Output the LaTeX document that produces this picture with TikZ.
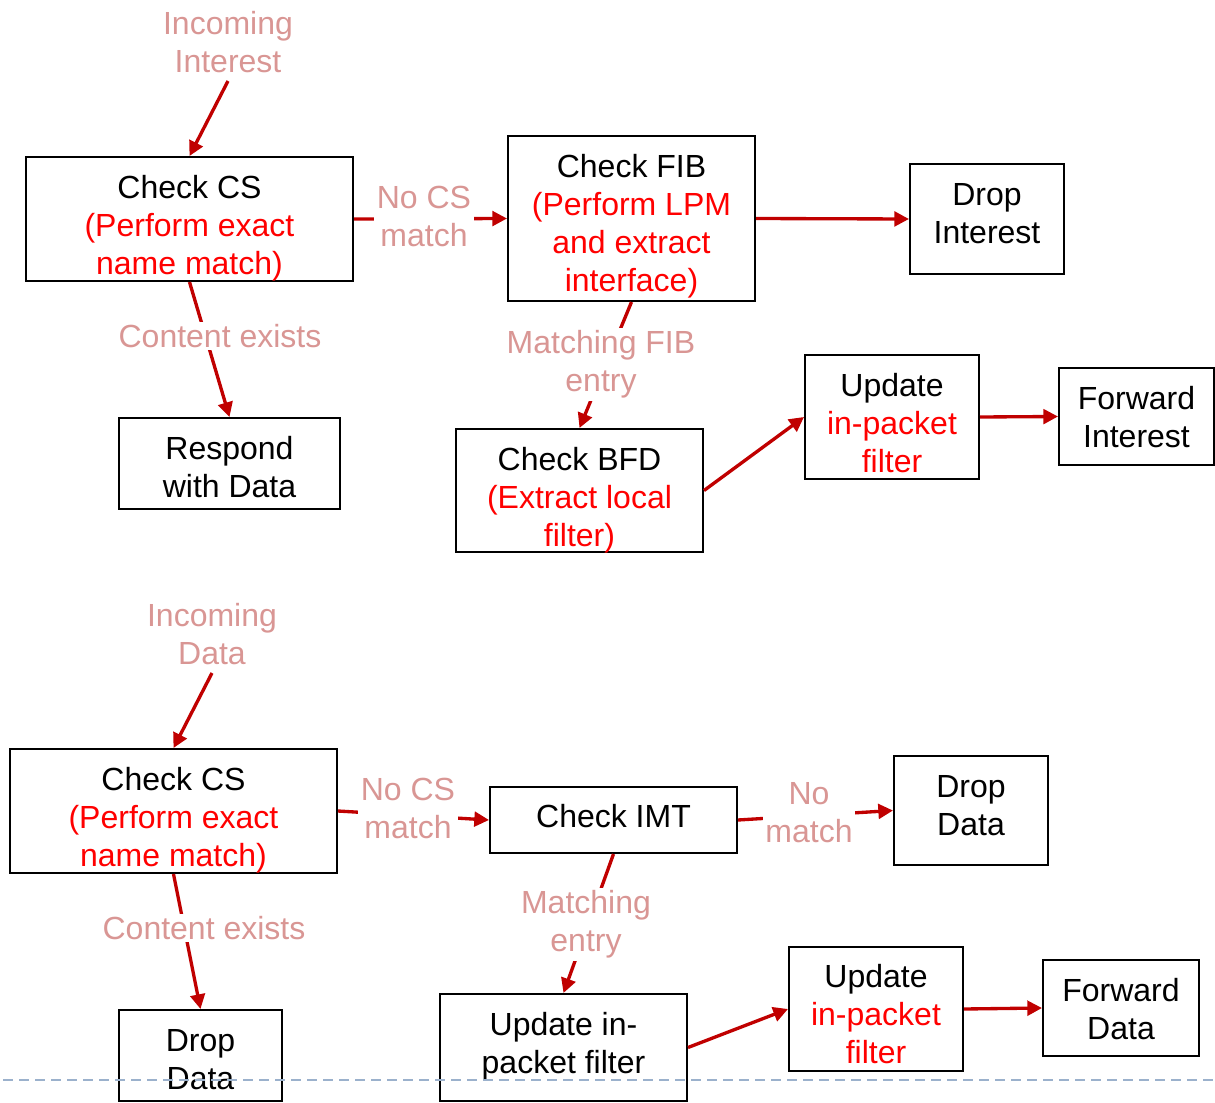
\documentclass[tikz,border=0pt]{standalone}
\usepackage{fontspec}
\setmainfont{Liberation Sans}
\usetikzlibrary{arrows.meta}
\definecolor{arr}{HTML}{C00000}
\definecolor{lbl}{HTML}{D99694}
\definecolor{hot}{HTML}{FF0000}
\definecolor{dsh}{HTML}{9BB1CC}
\begin{document}
\begin{tikzpicture}[x=0.75pt,y=-0.75pt,
  box/.style={draw=black,line width=1.5pt,inner sep=0pt},
  txt/.style={align=center,inner sep=0pt,font=\fontsize{24pt}{28.5pt}\selectfont},
  lab/.style={txt,text=lbl,fill=white,inner sep=2pt},
  conn/.style={draw=arr,line width=2.5pt,-{Triangle[length=11pt,width=11pt]}},
]
\useasboundingbox (0,0) rectangle (1215,1103);

% ---------- top: boxes ----------
\node[box,minimum width=245.25pt,minimum height=93pt] (cs1) at (189.5,219) {};
\node[box,minimum width=185.25pt,minimum height=123.75pt] (fib) at (631.5,218.5) {};
\node[box,minimum width=115.5pt,minimum height=82.5pt] (dropI) at (987,219) {};
\node[box,minimum width=165.75pt,minimum height=68.25pt] (resp) at (229.5,463.5) {};
\node[box,minimum width=185.25pt,minimum height=92.25pt] (bfd) at (579.5,490.5) {};
\node[box,minimum width=130.5pt,minimum height=93pt] (upd1) at (892,417) {};
\node[box,minimum width=116.25pt,minimum height=72.75pt] (fwdI) at (1136.5,416.5) {};

\node[txt] (cs1t) at (189.5,228.5) {Check CS\\\textcolor{hot}{(Perform exact}\\\textcolor{hot}{name match)}};
\node[txt] (fibt) at (631.5,226.5) {Check FIB\\\textcolor{hot}{(Perform LPM}\\\textcolor{hot}{and extract}\\\textcolor{hot}{interface)}};
\node[txt] (dropIt) at (987,213.5) {Drop\\Interest};
\node[txt] (respt) at (229.5,467.5) {Respond\\with Data};
\node[txt] (bfdt) at (579.5,500) {Check BFD\\\textcolor{hot}{(Extract local}\\\textcolor{hot}{filter)}};
\node[txt] (upd1t) at (892,423) {Update\\\textcolor{hot}{in-packet}\\\textcolor{hot}{filter}};
\node[txt] (fwdIt) at (1136.5,417.5) {Forward\\Interest};

% ---------- bottom: boxes ----------
\node[box,minimum width=245.25pt,minimum height=93pt] (cs2) at (173.5,811) {};
\node[box,minimum width=185.25pt,minimum height=49.5pt] (imt) at (613.5,820) {};
\node[box,minimum width=115.5pt,minimum height=81.75pt] (dropD) at (971,810.5) {};
\node[box,minimum width=122.25pt,minimum height=68.25pt] (dropD2) at (200.5,1055.5) {};
\node[box,minimum width=185.25pt,minimum height=80.25pt] (updin) at (563.5,1047.5) {};
\node[box,minimum width=130.5pt,minimum height=93pt] (upd2) at (876,1009) {};
\node[box,minimum width=117pt,minimum height=72pt] (fwdD) at (1121,1008) {};

\node[txt] (cs2t) at (173.5,820.5) {Check CS\\\textcolor{hot}{(Perform exact}\\\textcolor{hot}{name match)}};
\node[txt] (imtt) at (613.5,816) {Check IMT};
\node[txt] (dropDt) at (971,805.5) {Drop\\Data};
\node[txt] (dropD2t) at (200.5,1059.5) {Drop\\Data};
\node[txt] (updint) at (563.5,1046.5) {Update in-\\packet filter};
\node[txt] (upd2t) at (876,1014.5) {Update\\\textcolor{hot}{in-packet}\\\textcolor{hot}{filter}};
\node[txt] (fwdDt) at (1121,1009.5) {Forward\\Data};

% ---------- connectors ----------
\draw[conn] (cs1.east) -- (fib.west);
\draw[conn] (fib.east) -- (dropI.west);
\draw[conn] (cs1.south) -- (resp.north);
\draw[conn] (fib.south) -- (bfd.north);
\draw[conn] (bfd.east) -- (upd1.west);
\draw[conn] (upd1.east) -- (fwdI.west);

\draw[conn] (cs2.east) -- (imt.west);
\draw[conn] (imt.east) -- (dropD.west);
\draw[conn] (cs2.south) -- (dropD2.north);
\draw[conn] (imt.south) -- (updin.north);
\draw[conn] (updin.east) -- (upd2.west);
\draw[conn] (upd2.east) -- (fwdD.west);

% ---------- labels ----------
\node[lab] (l1) at (424,216.5) {No CS\\match};
\node[lab] (l2) at (220,336) {Content exists};
\node[lab] (l3) at (601,364.5) {Matching FIB\\entry};
\node[lab] (l4) at (408,808.5) {No CS\\match};
\node[lab] (l5) at (809,812.5) {No\\match};
\node[lab] (l6) at (204,928) {Content exists};
\node[lab] (l7) at (586,924.5) {Matching\\entry};

\node[txt,text=lbl] (inI) at (228,42.5) {Incoming\\Interest};
\node[txt,text=lbl] (inD) at (212,634.5) {Incoming\\Data};
\coordinate (inIs) at (228,81);
\coordinate (inDs) at (212,673);
\draw[conn] (inIs) -- (cs1.north);
\draw[conn] (inDs) -- (cs2.north);

% ---------- dashed rule ----------
\coordinate (rl) at (3,1080);
\coordinate (rr) at (1215,1080);
\draw[dsh,line width=1.2pt,dash pattern=on 7.5pt off 4.5pt] (rl) -- (rr);
\end{tikzpicture}
\end{document}
